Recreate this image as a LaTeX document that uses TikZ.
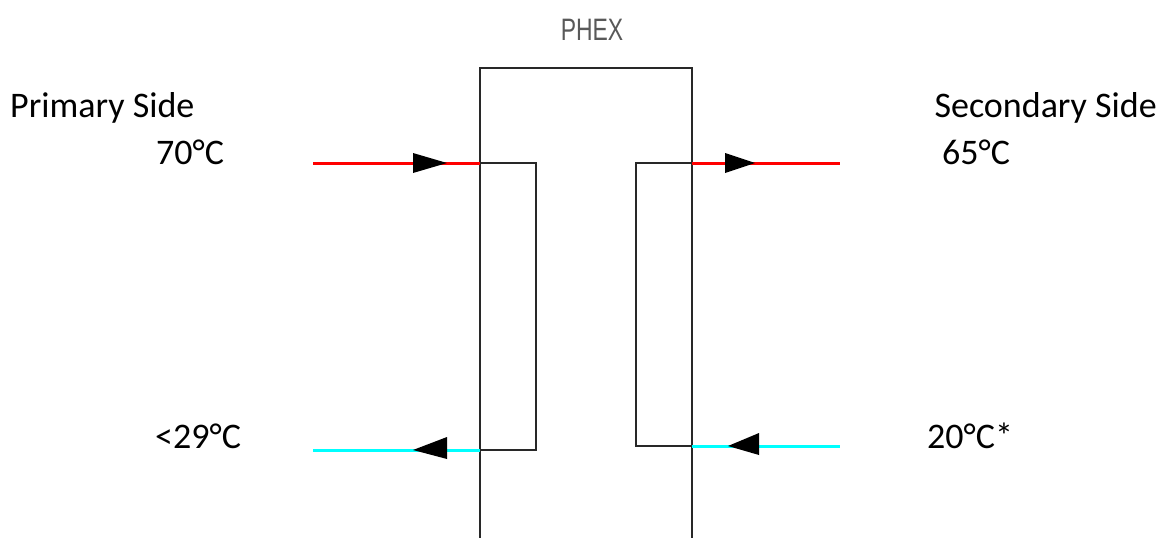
\documentclass[tikz,border=0pt]{standalone}
\usepackage{fontspec}
\setmainfont{Carlito}
\newfontfamily\phexfont{Liberation Sans}
\definecolor{hotred}{RGB}{255,0,0}
\definecolor{coldcyan}{RGB}{0,255,255}
\definecolor{framegray}{RGB}{40,40,40}
\begin{document}
\begin{tikzpicture}[x=1pt,y=-1pt,
  lbl/.style={anchor=base west,inner sep=0pt,font=\fontsize{36}{40}\selectfont},
  frame/.style={draw=framegray,line width=2.6pt},
  hot/.style={draw=hotred,line width=3pt},
  cold/.style={draw=coldcyan,line width=3pt},
  head/.style={fill=black}]
\useasboundingbox (0,0) rectangle (1162,538);
% PHEX box (open at bottom)
\coordinate (bl) at (480,538);
\coordinate (tl) at (480,68);
\coordinate (tr) at (692,68);
\coordinate (br) at (692,538);
\node[anchor=base,inner sep=0pt,text=black!65,font=\fontsize{31}{32}\selectfont\phexfont] (phex) at (592,40) {\scalebox{0.74}[1]{PHEX}};
% inlets/outlets
\coordinate (pin) at (480,163);
\coordinate (pout) at (480,450);
\coordinate (sout) at (692,163);
\coordinate (sin) at (692,446);
\coordinate (pinFar) at (313,163);
\coordinate (poutFar) at (313,450);
\coordinate (soutFar) at (840,163);
\coordinate (sinFar) at (840,446);
% inner loops
\draw[frame] (pin) -- (536,163) -- (536,450) -- (pout);
\draw[frame] (sout) -- (636,163) -- (636,446) -- (sin);
\draw[frame] (bl) -- (tl) -- (tr) -- (br);
% pipes
\draw[hot] (pinFar) -- (pin);
\draw[cold] (poutFar) -- (pout);
\draw[hot] (sout) -- (soutFar);
\draw[cold] (sin) -- (sinFar);
% arrowheads
\fill[head] (413,153) -- (447,163) -- (413,173) -- cycle;
\fill[head] (725,153) -- (755,163) -- (725,173) -- cycle;
\fill[head] (447,437) -- (413,450) -- (447,459) -- cycle;
\fill[head] (759,433) -- (728,446) -- (759,455) -- cycle;
% labels
\node[lbl] (prim) at (10,117) {Primary Side};
\node[lbl] (t70) at (156,164) {70°C};
\node[lbl] (t29) at (155,448) {<29°C};
\node[lbl,anchor=base east] (sec) at (1157,117) {Secondary Side};
\node[lbl] (t65) at (942,164) {65°C};
\node[lbl] (t20) at (927,448) {20°C*};
\end{tikzpicture}
\end{document}
